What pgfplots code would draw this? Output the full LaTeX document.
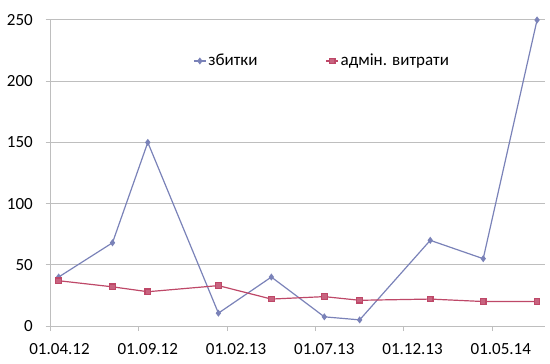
\documentclass[border=0pt]{standalone}
\usepackage{fontspec}
\setmainfont{Carlito}
\usepackage{pgfplots}
\pgfplotsset{compat=1.18}
\definecolor{serA}{RGB}{122,130,184}
\definecolor{serB}{RGB}{190,72,104}
\definecolor{gridc}{RGB}{190,190,190}
\begin{document}
\fontsize{17bp}{20bp}\selectfont
\begin{tikzpicture}
\useasboundingbox (-50.7bp,-38bp) rectangle (499.3bp,326bp);
\begin{axis}[
  at={(0,0)}, anchor=origin,
  scale only axis,
  width=494.3bp, height=306bp,
  xmin=0, xmax=28, ymin=0, ymax=250,
  axis x line=bottom, axis y line=left,
  axis line style={-, draw=gridc, line width=1bp},
  xtick={0,5,10,15,20,25},
  xticklabels={01.04.12,01.09.12,01.02.13,01.07.13,01.12.13,01.05.14},
  ytick={0,50,100,150,200,250},
  tick align=outside,
  major tick length=5bp,
  tick style={draw=gridc, line width=1bp},
  ymajorgrids,
  grid style={draw=gridc, line width=1bp},
  /pgf/number format/assume math mode=true,
  ticklabel style={font=\fontsize{17bp}{20bp}\selectfont},
  xticklabel style={xshift=8.8bp, yshift=-7bp},
  yticklabel style={xshift=-7bp},
  legend style={draw=none, fill=none, at={(axis description cs:0.288,0.866)}, anchor=west,
    inner sep=0pt, font=\fontsize{17bp}{20bp}\selectfont,
    /tikz/every even column/.append style={column sep=66bp}},
  legend columns=2,
  legend cell align=left,
  legend image code/.code={\draw[mark repeat=2,mark phase=2,#1] plot coordinates {(0bp,0bp)(6bp,0bp)(12bp,0bp)};},
  clip=false,
]
\addplot[color=serA, line width=1.2bp, mark=diamond*, mark size=2.6bp, mark options={fill=serA, draw=serA}]
  coordinates {(0.45,40) (3.5,68) (5.5,150) (9.5,10.5) (12.5,40) (15.5,7.5) (17.5,5) (21.5,70) (24.5,55) (27.55,250)};
\addlegendentry{збитки}
\addplot[color=serB, line width=1.2bp, mark=square*, mark size=2.8bp, mark options={fill=serB!85!white, draw=serB}]
  coordinates {(0.45,37) (3.5,32) (5.5,28) (9.5,33) (12.5,22) (15.5,24) (17.5,21) (21.5,22) (24.5,20) (27.55,20)};
\addlegendentry{адмін. витрати}
\end{axis}
\end{tikzpicture}
\end{document}
